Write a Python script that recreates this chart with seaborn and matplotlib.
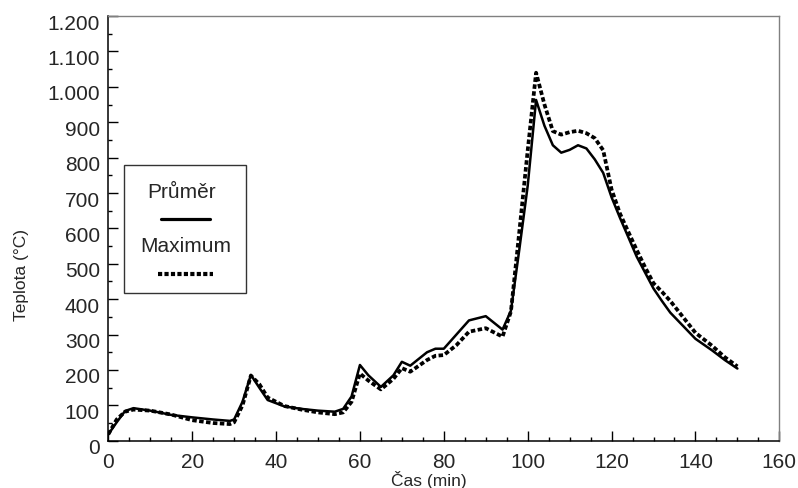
import numpy as np
import pandas as pd
import seaborn as sns
import matplotlib.pyplot as plt
from matplotlib import transforms
from matplotlib.patches import Rectangle
from matplotlib.lines import Line2D
from matplotlib.ticker import MultipleLocator, FuncFormatter

# time (min) and temperatures (°C)
cas = [0, 2, 4, 6, 10, 15, 20, 25, 29, 30, 32, 34, 36, 38, 42, 46, 50, 54, 56, 58,
       60, 62, 65, 68, 70, 72, 76, 78, 80, 83, 86, 90, 94, 96, 98, 100, 102, 104,
       106, 108, 110, 112, 114, 116, 118, 120, 122, 124, 126, 128, 130, 132, 134,
       137, 140, 144, 147, 150]
prumer = [18, 52, 84, 92, 85, 73, 66, 60, 56, 60, 110, 186, 150, 115, 97, 90, 85, 82, 90, 125,
          214, 185, 152, 185, 223, 212, 250, 260, 260, 300, 340, 352, 314, 367, 540, 720, 963, 890,
          835, 814, 822, 835, 826, 795, 757, 688, 630, 575, 520, 475, 430, 395, 362,
          325, 288, 255, 228, 204]
maximum = [18, 60, 82, 88, 85, 74, 58, 50, 47, 52, 100, 184, 160, 122, 98, 88, 80, 75, 80, 110,
           190, 170, 145, 175, 205, 195, 228, 240, 242, 270, 308, 318, 294, 365, 590, 820, 1040, 950,
           875, 865, 872, 876, 869, 855, 821, 710, 642, 590, 539, 490, 445, 421, 395,
           350, 305, 268, 236, 210]
legend_labels = ["Průměr", "Maximum"]

df = pd.DataFrame({"cas": cas, "prumer": prumer, "maximum": maximum})

sns.set_style("white")
plt.rcParams['font.family'] = ['Liberation Sans', 'DejaVu Sans']

fig = plt.figure(figsize=(7.98, 4.88), dpi=100)
ax = fig.add_axes([0.1357, 0.0969, 0.8409, 0.8701])

dots = (0, (1.2, 0.65))
sns.lineplot(data=df, x="cas", y="prumer", ax=ax, color="black", linewidth=1.8)
sns.lineplot(data=df, x="cas", y="maximum", ax=ax, color="black", linewidth=2.7,
             linestyle=dots)

ax.set_xlim(0, 160)
ax.set_ylim(0, 1200)
ax.xaxis.set_major_locator(MultipleLocator(20))
ax.xaxis.set_minor_locator(MultipleLocator(5))
ax.yaxis.set_major_locator(MultipleLocator(100))
ax.yaxis.set_minor_locator(MultipleLocator(50))
ax.yaxis.set_major_formatter(FuncFormatter(lambda v, p: f"{int(v):,}".replace(",", ".")))

ax.tick_params(which="both", direction="in", color="black", width=1,
               top=False, right=False, left=True, bottom=True)
ax.tick_params(which="major", length=7)
ax.tick_params(which="minor", length=3)
ax.tick_params(axis="x", labelsize=15, pad=9)
ax.tick_params(axis="y", labelsize=15, pad=6)

for side in ["left", "bottom"]:
    ax.spines[side].set_color("black")
    ax.spines[side].set_linewidth(1.1)
for side in ["top", "right"]:
    ax.spines[side].set_color("#808080")
    ax.spines[side].set_linewidth(1.0)

# y tick labels sit a little below their ticks in the original
shift = transforms.ScaledTranslation(0, -6 / 100, fig.dpi_scale_trans)
for lab in ax.get_yticklabels():
    lab.set_transform(lab.get_transform() + shift)

ax.set_xlabel("Čas (min)", fontsize=12.5)
ax.set_ylabel("Teplota (°C)", fontsize=12.5)
ax.xaxis.set_label_coords(0.478, -0.072)
ax.yaxis.set_label_coords(-0.118, 0.39)

# legend drawn as a box with label above each line sample
ax.add_patch(Rectangle((0.023, 0.349), 0.182, 0.301, transform=ax.transAxes,
                       fill=False, edgecolor="#333333", linewidth=1.0))
ax.text(0.109, 0.584, legend_labels[0], transform=ax.transAxes, fontsize=15,
        ha="center", va="center")
ax.add_line(Line2D([0.0785, 0.1515], [0.522, 0.522], transform=ax.transAxes,
                   color="black", linewidth=2.3))
ax.text(0.115, 0.457, legend_labels[1], transform=ax.transAxes, fontsize=15,
        ha="center", va="center")
ax.add_line(Line2D([0.0745, 0.1556], [0.3925, 0.3925], transform=ax.transAxes,
                   color="black", linewidth=3.0, linestyle=(0, (1.0, 0.55))))

fig.savefig("out.png", dpi=100)
